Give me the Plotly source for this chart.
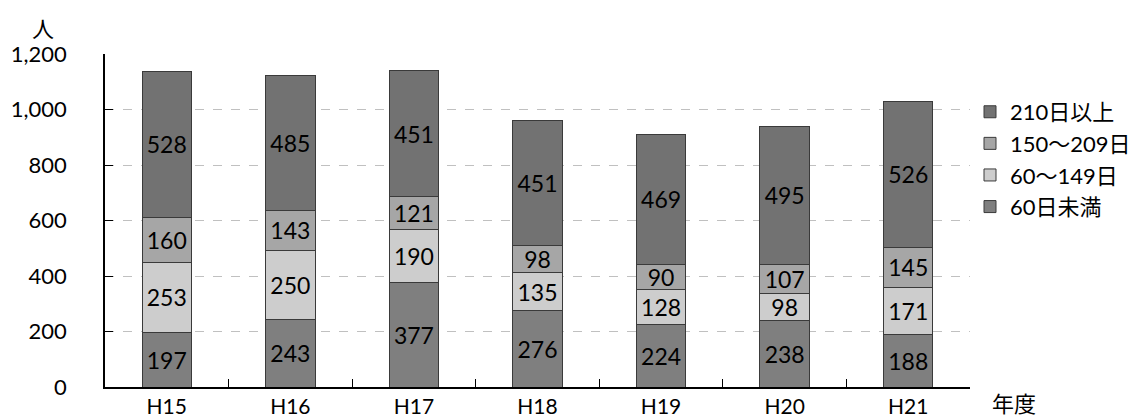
import plotly.graph_objects as go

years = ["H15", "H16", "H17", "H18", "H19", "H20", "H21"]
under_60 = [197, 243, 377, 276, 224, 238, 188]
d60_149 = [253, 250, 190, 135, 128, 98, 171]
d150_209 = [160, 143, 121, 98, 90, 107, 145]
over_210 = [528, 485, 451, 451, 469, 495, 526]

series = [
    ("60日未満", under_60, "#7f7f7f"),
    ("60～149日", d60_149, "#cdcdcd"),
    ("150～209日", d150_209, "#a6a6a6"),
    ("210日以上", over_210, "#727272"),
]

FONT = "Lato, 'Noto Sans CJK JP', sans-serif"

fig = go.Figure()
for name, vals, color in series:
    fig.add_trace(go.Bar(
        x=years, y=vals, name=name,
        marker=dict(color=color, line=dict(color="#3a3a3a", width=1)),
        text=[str(v) for v in vals],
        textposition="inside", insidetextanchor="middle", textangle=0,
        textfont=dict(size=23, color="black", family=FONT),
        constraintext="none",
    ))

fig.update_layout(
    barmode="stack",
    bargap=0.6,
    width=1148, height=419,
    margin=dict(l=105, r=175, t=54, b=32),
    plot_bgcolor="white", paper_bgcolor="white",
    font=dict(family=FONT, size=22, color="black"),
    uniformtext=dict(minsize=23, mode="show"),
    legend=dict(
        traceorder="reversed",
        x=1.0, xanchor="left", y=0.889, yanchor="top",
        font=dict(size=22, family=FONT),
        tracegroupgap=0, itemwidth=30,
    ),
    xaxis=dict(
        showline=True, linecolor="black", linewidth=1.5,
        ticks="inside", ticklen=8, tickcolor="black", tickson="boundaries",
        tickfont=dict(size=21), ticklabelstandoff=0, automargin=False,
    ),
    yaxis=dict(
        range=[0, 1200], dtick=200, tickformat=",",
        showline=True, linecolor="black", linewidth=1.5,
        ticks="inside", ticklen=8, tickcolor="black",
        showgrid=True, gridcolor="#c0c0c0", griddash="dash", gridwidth=1,
        zeroline=False,
        tickfont=dict(size=22), ticklabelstandoff=32, automargin=False,
    ),
    annotations=[
        dict(text="人", xref="paper", yref="paper", x=-0.072, y=1.0,
             xanchor="center", yanchor="bottom", yshift=10, showarrow=False,
             font=dict(size=22)),
        dict(text="年度", xref="paper", yref="paper", x=(1017 - 105) / 868, y=0,
             xanchor="center", yanchor="middle", yshift=-16, showarrow=False,
             font=dict(size=22)),
    ],
)

fig.write_html("out.html")
